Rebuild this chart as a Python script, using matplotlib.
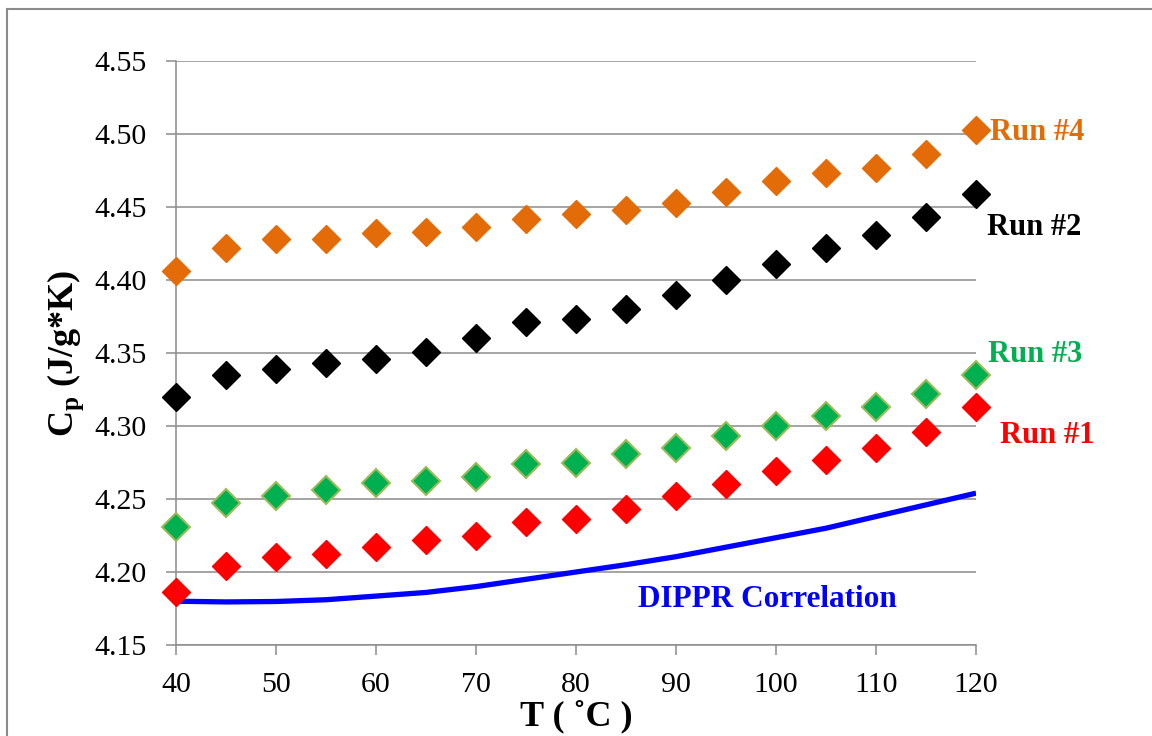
import matplotlib
matplotlib.use("Agg")
import matplotlib.pyplot as plt
from matplotlib.patches import Rectangle

plt.rcParams['font.family'] = ['Liberation Serif', 'DejaVu Serif']
plt.rcParams['mathtext.fontset'] = 'custom'
plt.rcParams['mathtext.rm'] = 'Liberation Serif'
plt.rcParams['mathtext.bf'] = 'Liberation Serif:bold'

# temperature (C) and heat capacity (J/g*K)
temps = [40, 45, 50, 55, 60, 65, 70, 75, 80, 85, 90, 95, 100, 105, 110, 115, 120]
run1 = [4.186, 4.204, 4.210, 4.212, 4.217, 4.222, 4.225, 4.234, 4.236, 4.243,
        4.252, 4.260, 4.269, 4.277, 4.285, 4.296, 4.313]
run2 = [4.320, 4.335, 4.339, 4.343, 4.346, 4.351, 4.360, 4.371, 4.373, 4.380,
        4.390, 4.400, 4.411, 4.422, 4.431, 4.443, 4.459]
run3 = [4.231, 4.247, 4.252, 4.256, 4.261, 4.262, 4.265, 4.274, 4.275, 4.281,
        4.285, 4.293, 4.300, 4.307, 4.313, 4.322, 4.335]
run4 = [4.406, 4.422, 4.428, 4.428, 4.432, 4.433, 4.436, 4.442, 4.445, 4.448,
        4.453, 4.460, 4.468, 4.473, 4.477, 4.486, 4.503]
dippr = [4.180, 4.1795, 4.1798, 4.181, 4.1835, 4.186, 4.190, 4.195, 4.200, 4.205,
         4.2105, 4.217, 4.2235, 4.230, 4.238, 4.246, 4.254]

xticks = [40, 50, 60, 70, 80, 90, 100, 110, 120]
yticks = [4.15, 4.20, 4.25, 4.30, 4.35, 4.40, 4.45, 4.50, 4.55]

fig = plt.figure(figsize=(11.52, 7.36), dpi=100)
ax = fig.add_axes([176/1152, 91/736, 800/1152, 584/736])

# outer chart frame
fig.patches.append(Rectangle((7/1152, -0.1), 1.2, (736-9)/736 + 0.1,
                             transform=fig.transFigure, fill=False,
                             edgecolor='#8c8c8c', linewidth=1.5))

ax.plot(temps, dippr, color='#0000ff', linewidth=3.8, zorder=2,
        solid_capstyle='butt', solid_joinstyle='round')
mk = dict(linestyle='none', marker='D', markersize=14.5, clip_on=False, zorder=3)
ax.plot(temps, run4, color='#e36c09', markeredgecolor='#e36c09', **mk)
ax.plot(temps, run2, color='black', markeredgecolor='black', **mk)
ax.plot(temps, run3, color='#00b050', markeredgecolor='#9bbb59',
        markeredgewidth=1.5, **mk)
ax.plot(temps, run1, color='#ff0000', markeredgecolor='#ff0000', **mk)

ax.set_xlim(40, 120)
ax.set_ylim(4.15, 4.55)
ax.set_xticks(xticks)
ax.set_yticks(yticks)
ax.set_yticklabels(['%.2f' % v for v in yticks])
ax.yaxis.grid(True, color='#8c8c8c', linewidth=1.1)
ax.set_axisbelow(True)
for s in ['top', 'right']:
    ax.spines[s].set_visible(False)
for s in ['left', 'bottom']:
    ax.spines[s].set_color('#8c8c8c')
    ax.spines[s].set_linewidth(1.1)
ax.tick_params(axis='y', length=7, width=1.1, color='#8c8c8c', pad=14, labelsize=21.5)
ax.tick_params(axis='x', length=7, width=1.1, color='#8c8c8c', pad=12.5, labelsize=21.5)

ax.set_xlabel('T ( \u02daC )', fontsize=26, fontweight='bold', labelpad=1)
ax.set_ylabel(r'C$_{\mathbf{p}}$ (J/g*K)', fontsize=26, fontweight='bold', labelpad=6)

ax.text(121.4, 4.501, 'Run #4', color='#e36c09', fontsize=22, fontweight='bold',
        va='center', ha='left')
ax.text(121.1, 4.436, 'Run #2', color='black', fontsize=22, fontweight='bold',
        va='center', ha='left')
ax.text(121.2, 4.3487, 'Run #3', color='#00b050', fontsize=22, fontweight='bold',
        va='center', ha='left')
ax.text(122.4, 4.2932, 'Run #1', color='#ff0000', fontsize=22, fontweight='bold',
        va='center', ha='left')
ax.text(86.2, 4.181, 'DIPPR Correlation', color='#0000ff', fontsize=22.5,
        fontweight='bold', va='center', ha='left')

fig.savefig('out.png', dpi=100)
